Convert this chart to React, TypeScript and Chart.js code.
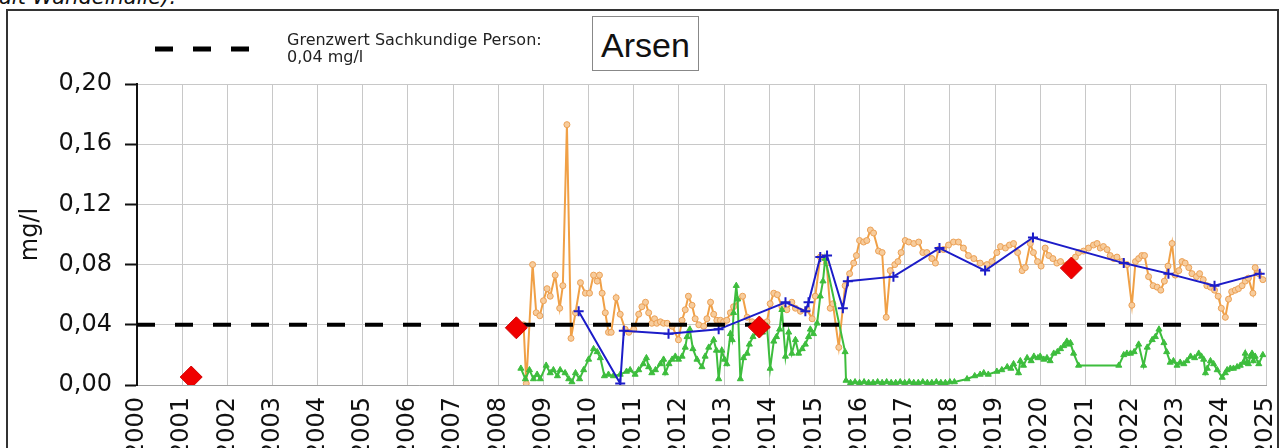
import React, { useEffect, useRef } from "react";
import { Chart, registerables } from "chart.js";

Chart.register(...registerables);

// ---- Data ----
const yearTicks = [2000, 2001, 2002, 2003, 2004, 2005, 2006, 2007, 2008, 2009, 2010, 2011, 2012, 2013, 2014, 2015, 2016, 2017, 2018, 2019, 2020, 2021, 2022, 2023, 2024, 2025];
const limitValue = 0.04;

const orangeX = [2008.56, 2008.62, 2008.76, 2008.84, 2008.92, 2009.0, 2009.08, 2009.15, 2009.26, 2009.36, 2009.43, 2009.52, 2009.61, 2009.71, 2009.82, 2009.93, 2010.02, 2010.11, 2010.19, 2010.24, 2010.3, 2010.37, 2010.44, 2010.5, 2010.61, 2010.7, 2010.81, 2010.89, 2011.0, 2011.11, 2011.18, 2011.26, 2011.33, 2011.4, 2011.46, 2011.51, 2011.59, 2011.66, 2011.74, 2011.85, 2011.99, 2012.07, 2012.14, 2012.21, 2012.29, 2012.36, 2012.44, 2012.55, 2012.62, 2012.7, 2012.77, 2012.84, 2012.92, 2012.99, 2013.06, 2013.14, 2013.21, 2013.41, 2013.51, 2013.62, 2013.73, 2013.95, 2014.02, 2014.1, 2014.18, 2014.28, 2014.39, 2014.5, 2014.58, 2014.69, 2014.84, 2014.95, 2015.02, 2015.13, 2015.27, 2015.35, 2015.41, 2015.54, 2015.68, 2015.78, 2015.87, 2015.93, 2016.0, 2016.09, 2016.16, 2016.24, 2016.31, 2016.42, 2016.5, 2016.59, 2016.68, 2016.78, 2016.85, 2016.92, 2017.01, 2017.09, 2017.2, 2017.31, 2017.4, 2017.49, 2017.6, 2017.68, 2017.75, 2017.86, 2017.97, 2018.08, 2018.19, 2018.3, 2018.41, 2018.53, 2018.67, 2018.82, 2018.93, 2019.04, 2019.12, 2019.23, 2019.32, 2019.41, 2019.5, 2019.6, 2019.67, 2019.78, 2019.85, 2019.94, 2020.02, 2020.11, 2020.19, 2020.28, 2020.37, 2020.45, 2020.6, 2020.78, 2020.85, 2020.96, 2021.07, 2021.18, 2021.26, 2021.33, 2021.4, 2021.48, 2021.55, 2021.63, 2021.7, 2021.81, 2021.92, 2022.03, 2022.11, 2022.18, 2022.25, 2022.31, 2022.4, 2022.5, 2022.59, 2022.67, 2022.75, 2022.83, 2022.92, 2022.99, 2023.07, 2023.14, 2023.21, 2023.29, 2023.36, 2023.46, 2023.53, 2023.61, 2023.69, 2023.77, 2023.86, 2023.94, 2024.01, 2024.1, 2024.17, 2024.24, 2024.32, 2024.39, 2024.47, 2024.54, 2024.61, 2024.71, 2024.76, 2024.84, 2024.93];
const orangeY = [0.040, 0.001, 0.080, 0.048, 0.046, 0.056, 0.064, 0.059, 0.073, 0.051, 0.066, 0.173, 0.031, 0.048, 0.068, 0.061, 0.061, 0.073, 0.069, 0.073, 0.061, 0.048, 0.035, 0.035, 0.058, 0.047, 0.037, 0.035, 0.037, 0.047, 0.052, 0.055, 0.048, 0.041, 0.044, 0.041, 0.042, 0.041, 0.041, 0.039, 0.030, 0.043, 0.050, 0.059, 0.053, 0.044, 0.040, 0.039, 0.044, 0.055, 0.047, 0.043, 0.043, 0.042, 0.043, 0.048, 0.052, 0.059, 0.045, 0.042, 0.039, 0.042, 0.054, 0.061, 0.060, 0.052, 0.050, 0.055, 0.051, 0.049, 0.050, 0.044, 0.059, 0.085, 0.081, 0.051, 0.054, 0.025, 0.066, 0.074, 0.081, 0.086, 0.096, 0.095, 0.096, 0.103, 0.101, 0.089, 0.088, 0.045, 0.076, 0.080, 0.082, 0.088, 0.096, 0.095, 0.094, 0.095, 0.088, 0.088, 0.084, 0.081, 0.090, 0.090, 0.093, 0.095, 0.095, 0.091, 0.086, 0.084, 0.081, 0.080, 0.082, 0.088, 0.092, 0.091, 0.093, 0.094, 0.088, 0.076, 0.078, 0.094, 0.088, 0.082, 0.079, 0.091, 0.086, 0.084, 0.081, 0.082, 0.080, 0.085, 0.088, 0.089, 0.091, 0.093, 0.094, 0.091, 0.092, 0.090, 0.086, 0.084, 0.085, 0.082, 0.080, 0.053, 0.082, 0.084, 0.086, 0.086, 0.072, 0.066, 0.065, 0.063, 0.069, 0.079, 0.094, 0.073, 0.076, 0.082, 0.081, 0.078, 0.074, 0.072, 0.074, 0.070, 0.066, 0.065, 0.063, 0.059, 0.051, 0.045, 0.057, 0.062, 0.063, 0.064, 0.066, 0.069, 0.071, 0.061, 0.078, 0.074, 0.070];

const blueX = [2009.78, 2010.7, 2010.78, 2011.77, 2012.88, 2014.36, 2014.8, 2014.87, 2015.13, 2015.28, 2015.63, 2015.74, 2016.75, 2017.77, 2018.78, 2019.84, 2021.85, 2022.84, 2023.86, 2024.86];
const blueY = [0.049, 0.001, 0.036, 0.034, 0.037, 0.055, 0.049, 0.055, 0.085, 0.086, 0.051, 0.069, 0.072, 0.091, 0.076, 0.098, 0.081, 0.074, 0.066, 0.074];

const greenX = [2008.5, 2008.6, 2008.69, 2008.78, 2008.86, 2008.93, 2009.06, 2009.15, 2009.22, 2009.31, 2009.37, 2009.48, 2009.56, 2009.63, 2009.71, 2009.8, 2009.89, 2010.0, 2010.11, 2010.19, 2010.26, 2010.35, 2010.44, 2010.55, 2010.7, 2010.84, 2010.92, 2011.03, 2011.11, 2011.21, 2011.28, 2011.33, 2011.4, 2011.48, 2011.59, 2011.66, 2011.7, 2011.78, 2011.85, 2011.92, 2011.99, 2012.07, 2012.14, 2012.18, 2012.24, 2012.31, 2012.4, 2012.51, 2012.58, 2012.66, 2012.77, 2012.83, 2012.88, 2012.95, 2013.01, 2013.06, 2013.14, 2013.18, 2013.21, 2013.27, 2013.3, 2013.36, 2013.43, 2013.51, 2013.56, 2013.64, 2013.75, 2013.85, 2013.95, 2014.02, 2014.1, 2014.16, 2014.23, 2014.28, 2014.36, 2014.43, 2014.5, 2014.58, 2014.65, 2014.73, 2014.8, 2014.87, 2014.91, 2014.98, 2015.06, 2015.13, 2015.19, 2015.24, 2015.68, 2015.7, 2015.8, 2015.9, 2016.0, 2016.1, 2016.2, 2016.3, 2016.4, 2016.5, 2016.6, 2016.7, 2016.8, 2016.9, 2017.0, 2017.1, 2017.2, 2017.3, 2017.4, 2017.5, 2017.6, 2017.7, 2017.8, 2017.9, 2018.0, 2018.1, 2018.38, 2018.55, 2018.67, 2018.75, 2018.85, 2019.04, 2019.15, 2019.27, 2019.35, 2019.41, 2019.52, 2019.56, 2019.63, 2019.71, 2019.8, 2019.86, 2019.95, 2020.0, 2020.08, 2020.15, 2020.22, 2020.3, 2020.38, 2020.45, 2020.52, 2020.59, 2020.63, 2020.67, 2020.74, 2020.85, 2021.74, 2021.85, 2021.92, 2022.0, 2022.08, 2022.18, 2022.29, 2022.37, 2022.48, 2022.55, 2022.63, 2022.74, 2022.8, 2022.88, 2022.95, 2023.03, 2023.1, 2023.18, 2023.25, 2023.33, 2023.42, 2023.51, 2023.57, 2023.62, 2023.66, 2023.7, 2023.77, 2023.84, 2023.92, 2024.03, 2024.1, 2024.14, 2024.21, 2024.28, 2024.36, 2024.43, 2024.5, 2024.54, 2024.58, 2024.61, 2024.65, 2024.69, 2024.72, 2024.76, 2024.84, 2024.93];
const greenY = [0.011, 0.004, 0.010, 0.004, 0.007, 0.004, 0.013, 0.008, 0.010, 0.006, 0.010, 0.008, 0.004, 0.002, 0.008, 0.004, 0.010, 0.017, 0.024, 0.022, 0.018, 0.006, 0.007, 0.006, 0.007, 0.009, 0.010, 0.007, 0.010, 0.014, 0.018, 0.012, 0.008, 0.010, 0.014, 0.017, 0.008, 0.014, 0.017, 0.019, 0.017, 0.019, 0.025, 0.032, 0.037, 0.024, 0.017, 0.012, 0.019, 0.025, 0.030, 0.023, 0.004, 0.023, 0.017, 0.014, 0.034, 0.030, 0.048, 0.066, 0.057, 0.004, 0.018, 0.021, 0.027, 0.032, 0.036, 0.035, 0.039, 0.011, 0.029, 0.032, 0.037, 0.050, 0.019, 0.035, 0.021, 0.030, 0.021, 0.024, 0.027, 0.032, 0.037, 0.034, 0.041, 0.059, 0.069, 0.084, 0.022, 0.003, 0.0015, 0.002, 0.0015, 0.002, 0.0015, 0.0015, 0.002, 0.0015, 0.002, 0.0015, 0.0015, 0.002, 0.0015, 0.002, 0.0015, 0.0015, 0.002, 0.0015, 0.0015, 0.002, 0.0015, 0.0015, 0.002, 0.002, 0.004, 0.006, 0.007, 0.008, 0.007, 0.009, 0.010, 0.012, 0.011, 0.014, 0.008, 0.016, 0.013, 0.018, 0.016, 0.019, 0.018, 0.019, 0.017, 0.018, 0.016, 0.021, 0.022, 0.024, 0.026, 0.029, 0.027, 0.028, 0.021, 0.013, 0.013, 0.020, 0.021, 0.021, 0.022, 0.027, 0.013, 0.025, 0.030, 0.032, 0.037, 0.028, 0.022, 0.015, 0.016, 0.013, 0.015, 0.014, 0.016, 0.019, 0.018, 0.021, 0.019, 0.017, 0.008, 0.011, 0.016, 0.014, 0.010, 0.005, 0.008, 0.010, 0.011, 0.011, 0.012, 0.013, 0.015, 0.021, 0.015, 0.014, 0.019, 0.021, 0.016, 0.019, 0.014, 0.020];

const redX = [2001.2, 2008.4, 2013.78, 2020.69];
const redY = [0.0053, 0.038, 0.0385, 0.0777];

const legendLabel = ["Grenzwert Sachkundige Person:", "0,04 mg/l"];
const titleText = "Arsen";
const yAxisTitle = "mg/l";
const headerText = "alt Wandelhalle).";

const toPts = (xs: number[], ys: number[]) => xs.map((x, i) => ({ x, y: ys[i] }));

const legendLinePlugin = {
  id: "legendLine",
  afterDraw(chart: any) {
    const ctx = chart.ctx;
    ctx.save();
    ctx.strokeStyle = "#000";
    ctx.lineWidth = 5;
    ctx.setLineDash([18, 20]);
    ctx.beginPath();
    ctx.moveTo(155, 49);
    ctx.lineTo(251, 49);
    ctx.stroke();
    ctx.restore();
  },
};

export default function App() {
  const ref = useRef<HTMLCanvasElement | null>(null);

  useEffect(() => {
    if (!ref.current) return;
    const chart = new Chart(ref.current, {
      type: "line",
      data: {
        datasets: [
          {
            label: "Bohrung",
            data: toPts(redX, redY),
            showLine: false,
            pointStyle: "rectRot",
            pointRadius: 11,
            pointBackgroundColor: "#f00000",
            pointBorderColor: "#d00000",
            pointBorderWidth: 1,
            order: 0,
          },
          {
            label: "Grenzwert",
            data: [
              { x: yearTicks[0], y: limitValue },
              { x: yearTicks[yearTicks.length - 1], y: limitValue },
            ],
            borderColor: "#000",
            borderWidth: 4,
            borderDash: [18, 20],
            pointRadius: 0,
            order: 1,
          },
          {
            label: "Blau",
            data: toPts(blueX, blueY),
            borderColor: "#1c1cc8",
            borderWidth: 2,
            pointStyle: "cross",
            pointRadius: 5,
            pointBorderColor: "#1c1cc8",
            pointBorderWidth: 2,
            order: 2,
          },
          {
            label: "Grün",
            data: toPts(greenX, greenY),
            borderColor: "#3dbd3d",
            borderWidth: 2,
            pointStyle: "triangle",
            pointRadius: 3.5,
            pointBackgroundColor: "#3dbd3d",
            pointBorderColor: "#3dbd3d",
            pointBorderWidth: 1,
            order: 3,
          },
          {
            label: "Orange",
            data: toPts(orangeX, orangeY),
            borderColor: "#f0a046",
            borderWidth: 2,
            pointStyle: "circle",
            pointRadius: 3,
            pointBackgroundColor: "#f7cc9c",
            pointBorderColor: "#eba055",
            pointBorderWidth: 1,
            order: 4,
          },
        ],
      },
      options: {
        animation: false,
        responsive: false,
        events: [],
        layout: { padding: { left: 0, top: 84, right: 15, bottom: 0 } },
        plugins: { legend: { display: false }, title: { display: false }, tooltip: { enabled: false } },
        scales: {
          x: {
            type: "linear",
            min: 2000,
            max: 2025,
            afterFit: (s: any) => {
              s.height = 63;
              s.paddingLeft = 0;
              s.paddingRight = 0;
            },
            afterBuildTicks: (s: any) => {
              s.ticks = yearTicks.map((v) => ({ value: v }));
            },
            ticks: {
              autoSkip: false,
              minRotation: 90,
              maxRotation: 90,
              padding: 12,
              color: "#111",
              font: { family: "'DejaVu Sans', Verdana, sans-serif", size: 24 },
              callback: (v: any) => String(v),
            },
            grid: { color: "#c8c8c8", lineWidth: 1, drawTicks: false },
            border: { color: "#a0a0a0", width: 1 },
          },
          y: {
            min: 0,
            max: 0.2,
            afterFit: (s: any) => {
              s.width = 137;
              s.paddingTop = 0;
              s.paddingBottom = 0;
            },
            ticks: {
              stepSize: 0.02,
              padding: 13,
              color: "#111",
              font: { family: "'DejaVu Sans', Verdana, sans-serif", size: 24 },
              callback: (v: any, i: number) => (i % 2 === 0 ? Number(v).toFixed(2).replace(".", ",") : ""),
            },
            grid: { color: "#c8c8c8", lineWidth: 1, tickLength: 12, tickColor: "#111", tickWidth: 2 },
            border: { color: "#111", width: 2 },
            title: {
              display: true,
              text: yAxisTitle,
              color: "#111",
              font: { family: "'DejaVu Sans', Verdana, sans-serif", size: 24 },
              padding: { top: 16, bottom: 0 },
            },
          },
        },
      },
      plugins: [legendLinePlugin],
    });
    return () => chart.destroy();
  }, []);

  return (
    <div style={{ position: "fixed", left: 0, top: 0, width: 1281, height: 448, background: "#fff", overflow: "hidden" }}>
      <div
        style={{
          position: "absolute",
          left: -1,
          top: -13,
          font: "italic 21px 'DejaVu Sans', Verdana, sans-serif",
          lineHeight: "21px",
          color: "#111",
          whiteSpace: "nowrap",
        }}
      >
        {headerText}
      </div>
      <div
        style={{
          position: "absolute",
          left: 6,
          top: 9,
          width: 1273,
          height: 470,
          border: "2px solid #333",
          boxSizing: "border-box",
        }}
      />
      <canvas ref={ref} width={1281} height={448} style={{ position: "absolute", left: 0, top: 0, width: 1281, height: 448 }} />
      <div
        style={{
          position: "absolute",
          left: 287,
          top: 31,
          font: "16px 'DejaVu Sans', Verdana, sans-serif",
          lineHeight: "17px",
          color: "#222",
          whiteSpace: "nowrap",
        }}
      >
        <div>{legendLabel[0]}</div>
        <div>{legendLabel[1]}</div>
      </div>
      <div
        style={{
          position: "absolute",
          left: 592,
          top: 16,
          width: 107,
          height: 55,
          border: "1px solid #888",
          boxSizing: "border-box",
          background: "#fff",
          display: "flex",
          alignItems: "center",
          justifyContent: "center",
          paddingTop: 3,
          font: "34px 'Liberation Sans', Arial, sans-serif",
          color: "#111",
        }}
      >
        {titleText}
      </div>
    </div>
  );
}
